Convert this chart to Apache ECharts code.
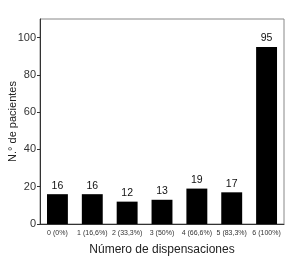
<!DOCTYPE html>
<html><head><meta charset="utf-8">
<script src="https://cdn.jsdelivr.net/npm/echarts@6/dist/echarts.min.js"></script>
<style>html,body{margin:0;padding:0;background:#fff}#c{width:300px;height:257px}</style>
</head><body><div id="c"></div>
<script>
const categories = ['0 (0%)','1 (16,6%)','2 (33,3%)','3 (50%)','4 (66,6%)','5 (83,3%)','6 (100%)'];
const values = [16,16,12,13,19,17,95];
const yTicks = [0,20,40,60,80,100];
const chart = echarts.init(document.getElementById('c'), null, {renderer:'canvas'});
const font = 'Liberation Sans, Arial, sans-serif';
chart.setOption({
  animation:false,
  grid:{left:40,right:16,top:19,bottom:33,containLabel:false,outerBoundsMode:'none',show:true,borderColor:'#888',borderWidth:1},
  xAxis:{type:'category',data:categories,
    axisLine:{lineStyle:{color:'#333'}},axisTick:{show:false},
    axisLabel:{fontSize:7,color:'#333',fontFamily:font,margin:6,interval:0},
    name:'Número de dispensaciones',nameLocation:'middle',nameGap:20,nameMoveOverlap:false,
    nameTextStyle:{fontSize:12,color:'#222',fontFamily:font}},
  yAxis:{type:'value',min:0,max:110,interval:20,
    axisLine:{show:true,lineStyle:{color:'#333'}},
    axisTick:{show:true,length:3,lineStyle:{color:'#333'},customValues:yTicks},
    splitLine:{show:false},
    axisLabel:{fontSize:11,color:'#333',fontFamily:font,margin:4,customValues:yTicks},
    name:'N.° de pacientes',nameLocation:'middle',nameGap:22,nameMoveOverlap:false,
    nameTextStyle:{fontSize:11,color:'#222',fontFamily:font}},
  series:[{type:'bar',data:values,barWidth:'60%',
    itemStyle:{color:'#000'},
    label:{show:true,position:'top',fontSize:10.5,color:'#111',fontFamily:font,distance:3}}]
});
</script></body></html>
